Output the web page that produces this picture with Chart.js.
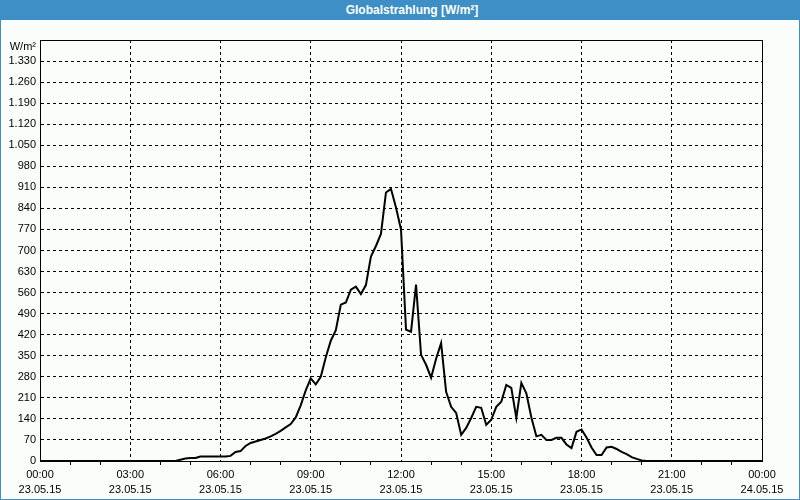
<!DOCTYPE html>
<html>
<head>
<meta charset="utf-8">
<script src="https://cdn.jsdelivr.net/npm/chart.js@4/dist/chart.umd.min.js"></script>
<style>
  body { margin: 0; background: #fbfdfb; }
  #wrap { position: relative; width: 800px; height: 500px; }
  #kopf {
    position: absolute; left: 0; top: 0; width: 800px; height: 20px;
    background: #3d8fc6; color: #fff; box-sizing: border-box; padding-left: 24px;
    font: bold 12px "Liberation Sans", Arial, sans-serif; line-height: 20px; text-align: center;
  }
  #rahmen {
    position: absolute; left: 0; top: 0; width: 800px; height: 500px;
    border: 1px solid #3d8fc6; box-sizing: border-box; pointer-events: none;
  }
  canvas { position: absolute; left: 0; top: 0; }
</style>
</head>
<body>
<div id="wrap">
  <canvas id="myChart" width="800" height="500"></canvas>
  <div id="kopf">Globalstrahlung [W/m²]</div>
  <div id="rahmen"></div>
</div>
<script>
// Messwerte alle 10 Minuten, 23.05.15 00:00 bis 24.05.15 00:00 (W/m²)
const intervallMin = 10;
const werte = [
  0, 0, 0, 0, 0, 0, 0, 0, 0, 0, 0, 0, 0, 0, 0, 0, 0, 0, 0, 0, 0, 0, 0, 0, 0, 0, 0, 0,
  4, 8, 10, 10, 15, 15, 15, 15, 15, 15, 17, 30, 33, 50, 60, 65, 70, 75, 82, 90, 100, 112,
  123, 145, 185, 235, 275, 255, 280, 345, 400, 435, 520, 527, 570, 580, 555, 585, 680, 715, 755, 893,
  905, 843, 770, 437, 430, 587, 353, 320, 277, 340, 392, 230, 180, 160, 87, 110, 143, 180, 177, 120,
  137, 180, 197, 253, 243, 143, 260, 225, 145, 82, 87, 70, 70, 77, 77, 55, 43, 97, 105, 78,
  45, 20, 20, 45, 47, 40, 30, 23, 13, 7, 2,
  0, 0, 0, 0, 0, 0, 0, 0, 0, 0, 0, 0, 0, 0, 0, 0, 0, 0, 0, 0, 0, 0, 0, 0
];
const startTag = 23;
const datumSuffix = '.05.15';
const yMax = 1400;
const ySchritt = 70;
const einheit = 'W/m²';

const punkte = werte.map((v, i) => ({ x: i * intervallMin, y: v }));

function zweistellig(n) { return String(n).padStart(2, '0'); }
function tausender(n) { return String(n).replace(/\B(?=(\d{3})+(?!\d))/g, '.'); }

const schrift = { family: '"Liberation Sans", Arial, sans-serif', size: 11 };

// Rahmen um die Zeichenfläche
const rahmenPlugin = {
  id: 'rahmen',
  afterDraw(chart) {
    const a = chart.chartArea;
    const c = chart.ctx;
    c.save();
    c.strokeStyle = '#000';
    c.lineWidth = 1;
    c.setLineDash([]);
    c.strokeRect(Math.round(a.left) + 0.5, Math.round(a.top) + 0.5,
      Math.round(a.right - a.left), Math.round(a.bottom - a.top));
    c.restore();
  }
};

const ctx = document.getElementById('myChart').getContext('2d');
const chart = new Chart(ctx, {
  type: 'line',
  data: {
    datasets: [{
      label: 'Globalstrahlung',
      data: punkte,
      borderColor: '#000',
      borderWidth: 2,
      pointRadius: 0,
      tension: 0,
      fill: false
    }]
  },
  options: {
    responsive: false,
    animation: false,
    layout: { padding: { top: 40, right: 38, left: 0, bottom: 0 } },
    plugins: { legend: { display: false }, tooltip: { enabled: false } },
    scales: {
      x: {
        type: 'linear',
        min: 0,
        max: 1440,
        afterFit: s => { s.height = 39; },
        ticks: {
          stepSize: 60,
          maxTicksLimit: 50,
          autoSkip: false,
          maxRotation: 0,
          padding: 2,
          color: '#000',
          font: { ...schrift, lineHeight: '15px' },
          callback: v => {
            if (v % 180 !== 0) return '';
            const tag = startTag + Math.floor(v / 1440);
            const std = Math.floor((v % 1440) / 60);
            return [zweistellig(std) + ':00', tag + datumSuffix];
          }
        },
        grid: {
          color: c => (c.tick && c.tick.value % 180 === 0) ? '#000' : 'rgba(0,0,0,0)',
          tickColor: c => (c.tick && c.tick.value % 180 === 0) ? 'rgba(0,0,0,0)' : '#000',
          tickLength: 4,
          lineWidth: 1
        },
        border: { display: true, color: '#000', dash: [3, 3] }
      },
      y: {
        min: 0,
        max: yMax,
        afterFit: s => { s.width = 40; },
        ticks: {
          stepSize: ySchritt,
          maxTicksLimit: 50,
          autoSkip: false,
          padding: 4,
          color: '#000',
          font: schrift,
          callback: v => v === yMax ? ['', einheit] : tausender(v)
        },
        grid: { color: '#000', drawTicks: false, lineWidth: 1 },
        border: { display: true, color: '#000', dash: [3, 3] }
      }
    }
  },
  plugins: [rahmenPlugin]
});
</script>
</body>
</html>
